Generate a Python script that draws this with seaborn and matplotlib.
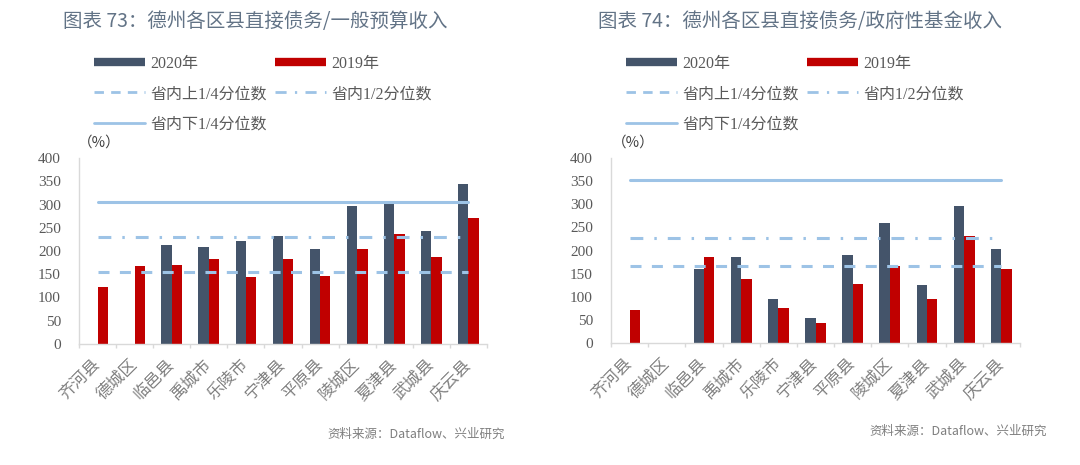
import numpy as np
import pandas as pd
import matplotlib
matplotlib.use('Agg')
import matplotlib.pyplot as plt
import seaborn as sns
from matplotlib.lines import Line2D

# ---------------- data ----------------
counties = ['齐河县', '德城区', '临邑县', '禹城市', '乐陵市', '宁津县',
            '平原县', '陵城区', '夏津县', '武城县', '庆云县']
years = ['2020年', '2019年']

budget_2020 = [np.nan, np.nan, 213, 208, 221, 233, 205, 297, 307, 242, 344]
budget_2019 = [122, 168, 170, 183, 145, 183, 147, 205, 236, 188, 272]
budget_q_upper = 155   # 省内上1/4分位数
budget_q_mid = 231     # 省内1/2分位数
budget_q_lower = 305   # 省内下1/4分位数

fund_2020 = [np.nan, np.nan, 161, 187, 95, 53, 191, 259, 125, 297, 203]
fund_2019 = [72, np.nan, 185, 138, 76, 43, 128, 166, 95, 231, 161]
fund_q_upper = 167
fund_q_mid = 228
fund_q_lower = 352

titles = ['图表 73：德州各区县直接债务/一般预算收入',
          '图表 74：德州各区县直接债务/政府性基金收入']
legend_labels = ['2020年', '2019年', '省内上1/4分位数', '省内1/2分位数', '省内下1/4分位数']
yticks = [0, 50, 100, 150, 200, 250, 300, 350, 400]
source = '资料来源：Dataflow、兴业研究'

# ---------------- style ----------------
sns.set_theme(style='white')
plt.rcParams['font.family'] = ['Liberation Serif', 'Noto Sans CJK SC', 'DejaVu Sans']
SANS = ['Noto Sans CJK SC', 'DejaVu Sans']
MIX = ['Liberation Serif', 'Noto Sans CJK SC', 'DejaVu Sans']

C2020 = '#44546a'
C2019 = '#c00000'
CL = '#9dc3e6'
W, H = 1080, 465

fig = plt.figure(figsize=(10.8, 4.65), dpi=100)
fig.patch.set_facecolor('white')

ax_rects = [
    (79 / W, 1 - 344 / H, (487 - 79) / W, (344 - 158) / H),
    (611 / W, 1 - 343 / H, (1020 - 611) / W, (343 - 158) / H),
]
title_x = [63, 598]
leg_x = [(94, 275), (626, 807)]
pct_x = [78, 612]
src_pos = [(505, 434), (1047, 431)]

datasets = [
    (budget_2020, budget_2019, budget_q_upper, budget_q_mid, budget_q_lower),
    (fund_2020, fund_2019, fund_q_upper, fund_q_mid, fund_q_lower),
]

n = len(counties)
for i, (v20, v19, qu, qm, ql) in enumerate(datasets):
    ax = fig.add_axes(ax_rects[i])
    df = pd.DataFrame({
        '区县': counties * 2,
        '年份': [years[0]] * n + [years[1]] * n,
        '值': list(v20) + list(v19),
    })
    sns.barplot(data=df, x='区县', y='值', hue='年份', order=counties,
                hue_order=years, palette=[C2020, C2019], width=0.56, gap=0,
                errorbar=None, legend=False, saturation=1, ax=ax,
                linewidth=0, zorder=2)
    ax.plot([0, n - 1], [qu, qu], color=CL, lw=2.2, dashes=(3.6, 3.4),
            zorder=3, dash_capstyle='butt')
    ax.plot([0, n - 1], [qm, qm], color=CL, lw=2.2, dashes=(4.2, 3.6, 0.8, 3.6),
            zorder=3, dash_capstyle='butt')
    ax.plot([0, n - 1], [ql, ql], color=CL, lw=2.2, zorder=3)

    ax.set_xlim(-0.5, n - 0.5)
    ax.set_ylim(0, 400)
    ax.set_yticks(yticks)
    ax.set_xlabel('')
    ax.set_ylabel('')
    for s in ['top', 'right']:
        ax.spines[s].set_visible(False)
    for s in ['left', 'bottom']:
        ax.spines[s].set_color('#d9d9d9')
        ax.spines[s].set_linewidth(1)
    ax.tick_params(axis='y', length=0, pad=13, labelsize=11, labelcolor='#595959')
    ax.tick_params(axis='x', which='major', length=0, pad=13, labelsize=12,
                   labelcolor='#808080')
    ax.set_xticks(np.arange(-0.5, n, 1), minor=True)
    ax.tick_params(axis='x', which='minor', length=3, color='#d9d9d9', width=1,
                   direction='out', bottom=True)
    for lab in ax.get_yticklabels():
        lab.set_family(MIX)
    for lab in ax.get_xticklabels():
        lab.set_rotation(45)
        lab.set_ha('right')
        lab.set_va('center')
        lab.set_rotation_mode('anchor')
        lab.set_family(SANS)
    ax.grid(False)

    # title
    fig.text(title_x[i] / W, 1 - 22 / H, titles[i], family=SANS, fontsize=14,
             color='#627386', ha='left', va='center', fontweight='medium')
    # (%)
    fig.text(pct_x[i] / W, 1 - 143 / H, '（%）', family=SANS, fontsize=10.5,
             color='#404040', ha='left', va='center')
    # source
    fig.text(src_pos[i][0] / W, 1 - src_pos[i][1] / H, source, family=SANS,
             fontsize=9, color='#7f7f7f', ha='right', va='center')

    # legends
    h20 = Line2D([], [], color=C2020, lw=6, solid_capstyle='butt')
    h19 = Line2D([], [], color=C2019, lw=6, solid_capstyle='butt')
    hup = Line2D([], [], color=CL, lw=2, dashes=(3.4, 2.6))
    hmid = Line2D([], [], color=CL, lw=2, dashes=(4.0, 3.0, 0.8, 3.0))
    hlow = Line2D([], [], color=CL, lw=2)
    prop = dict(family=MIX, size=11.5)
    leg1 = ax.legend([h20, hup, hlow],
                     [legend_labels[0], legend_labels[2], legend_labels[4]],
                     loc='upper left', bbox_to_anchor=(leg_x[i][0] / W, 1 - 56 / H),
                     bbox_transform=fig.transFigure, frameon=False,
                     handlelength=3.2, handletextpad=0.33, labelspacing=0.88,
                     borderpad=0, borderaxespad=0, prop=prop, labelcolor='#595959')
    ax.add_artist(leg1)
    ax.legend([h19, hmid], [legend_labels[1], legend_labels[3]],
              loc='upper left', bbox_to_anchor=(leg_x[i][1] / W, 1 - 56 / H),
              bbox_transform=fig.transFigure, frameon=False,
              handlelength=3.2, handletextpad=0.33, labelspacing=0.88,
              borderpad=0, borderaxespad=0, prop=prop, labelcolor='#595959')

fig.savefig('out.png', dpi=100, facecolor='white')
